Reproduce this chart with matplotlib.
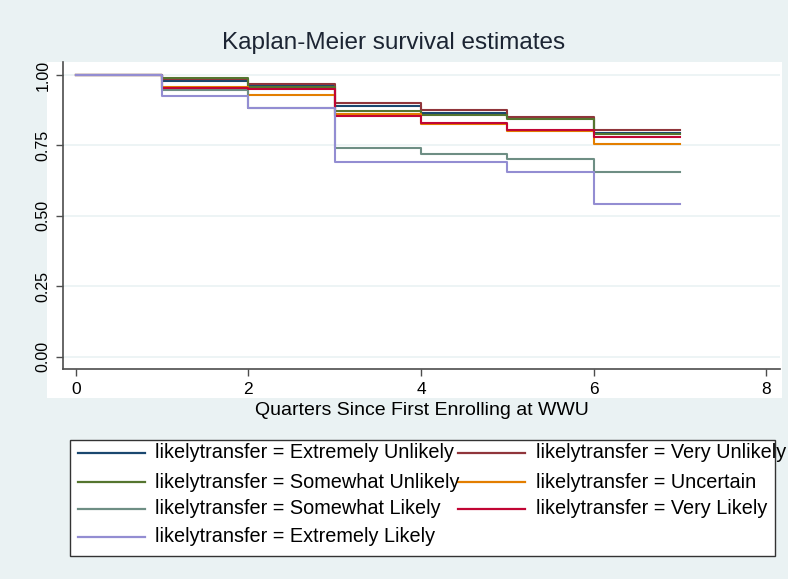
import matplotlib.pyplot as plt
from matplotlib.patches import Rectangle
from matplotlib.lines import Line2D

plt.rcParams['font.family'] = ['Liberation Sans', 'DejaVu Sans']

# Quarters since first enrolling (step change points)
quarters = [0, 1, 2, 3, 4, 5, 6, 7]

# Survival estimates per group, one value per interval (last repeated for the end)
groups = ["Extremely Unlikely", "Very Unlikely", "Somewhat Unlikely", "Uncertain",
          "Somewhat Likely", "Very Likely", "Extremely Likely"]
extremely_unlikely = [1.0, 0.977, 0.962, 0.890, 0.864, 0.846, 0.795, 0.795]
very_unlikely = [1.0, 0.984, 0.968, 0.902, 0.875, 0.852, 0.806, 0.806]
somewhat_unlikely = [1.0, 0.990, 0.958, 0.873, 0.858, 0.843, 0.791, 0.791]
uncertain = [1.0, 0.958, 0.930, 0.862, 0.826, 0.802, 0.754, 0.754]
somewhat_likely = [1.0, 0.945, 0.884, 0.742, 0.718, 0.703, 0.655, 0.655]
very_likely = [1.0, 0.952, 0.950, 0.855, 0.829, 0.805, 0.781, 0.781]
extremely_likely = [1.0, 0.927, 0.882, 0.692, 0.692, 0.656, 0.541, 0.541]

series = [extremely_unlikely, very_unlikely, somewhat_unlikely, uncertain,
          somewhat_likely, very_likely, extremely_likely]
colors = ["#1a476f", "#90353b", "#55752f", "#e37e00",
          "#6e8e84", "#c10534", "#938dd2"]

yticks = [0.0, 0.25, 0.5, 0.75, 1.0]
xticks = [0, 2, 4, 6, 8]

W, H = 788, 579
fig = plt.figure(figsize=(W / 100, H / 100), dpi=100)
fig.patch.set_facecolor("#eaf2f3")

# white inner graph region
fig.add_artist(Rectangle((47 / W, 1 - 398 / H), (782 - 47) / W, (398 - 62) / H,
                         transform=fig.transFigure, facecolor="white",
                         edgecolor="none", zorder=0))

ax = fig.add_axes([63 / W, 1 - 369 / H, (780 - 63) / W, (369 - 62) / H])
ax.set_facecolor("white")

for s, c in zip(series, colors):
    ax.step(quarters, s, where="post", color=c, lw=1.5)

ax.set_xlim(-0.147, 8.16)
ax.set_ylim(-0.044, 1.046)
ax.set_xticks(xticks)
ax.set_yticks(yticks)
ax.set_yticklabels(["%.2f" % v for v in yticks], rotation=90, va="center")
ax.grid(axis="y", color="#eaf2f3", lw=1.2)
ax.set_axisbelow(True)
for side in ["top", "right"]:
    ax.spines[side].set_visible(False)
for side in ["left", "bottom"]:
    ax.spines[side].set_color("#4d4d4d")
    ax.spines[side].set_linewidth(1.2)
ax.tick_params(direction="out", length=5, width=1.0, color="#4d4d4d", pad=4)
ax.tick_params(axis="y", labelsize=11.5)
ax.tick_params(axis="x", labelsize=12.5)
ax.set_xlabel("Quarters Since First Enrolling at WWU", fontsize=14, labelpad=4)

fig.text(0.5, 1 - 43 / H, "Kaplan-Meier survival estimates", ha="center",
         va="center", fontsize=17.5, color="#1c2533")

# legend box drawn like the Stata one (text spills past the frame)
fig.add_artist(Rectangle((70 / W, 1 - 556 / H), (775 - 70) / W, (556 - 440) / H,
                         transform=fig.transFigure, facecolor="white",
                         edgecolor="#333333", lw=1.0, zorder=1))
rows_y = [453, 482, 509, 537]
cols_x = [(78, 145, 155), (458, 525, 536)]
for i, (g, c) in enumerate(zip(groups, colors)):
    r, k = divmod(i, 2)
    x0, x1, xt = cols_x[k]
    y = 1 - rows_y[r] / H
    fig.add_artist(Line2D([x0 / W, x1 / W], [y, y], transform=fig.transFigure,
                          color=c, lw=1.6, zorder=2))
    fig.text(xt / W, y, "likelytransfer = " + g, ha="left", va="center",
             fontsize=14.3, zorder=3)

fig.savefig("out.png", dpi=100, facecolor=fig.get_facecolor())
